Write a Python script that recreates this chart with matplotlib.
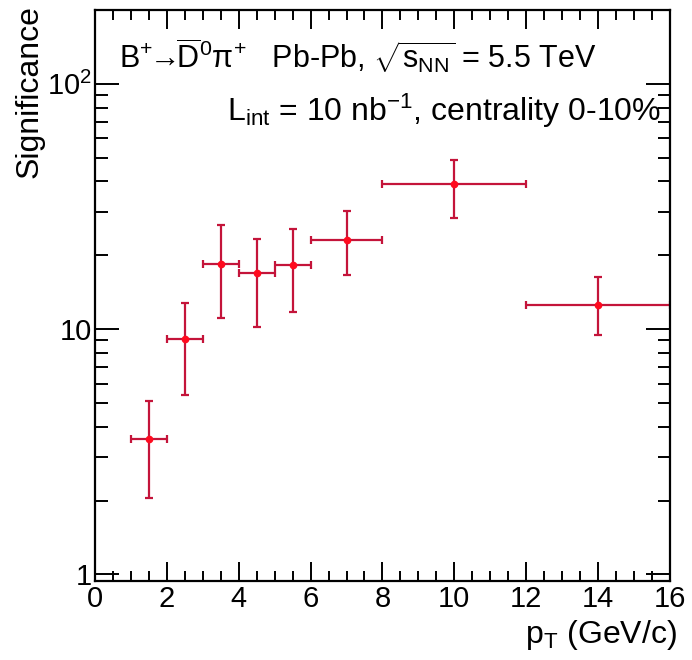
import matplotlib
matplotlib.use('Agg')
import matplotlib.pyplot as plt
from matplotlib.ticker import FixedLocator, FixedFormatter, MultipleLocator, NullFormatter

# значения
pt = [1.5, 2.5, 3.5, 4.5, 5.5, 7.0, 10.0, 14.0]
pt_lo = [1, 2, 3, 4, 5, 6, 8, 12]
pt_hi = [2, 3, 4, 5, 6, 8, 12, 16]
sig = [3.55, 9.1, 18.5, 16.9, 18.2, 23.0, 38.9, 12.6]
sig_hi = [5.1, 12.8, 26.5, 23.2, 25.7, 30.2, 49.1, 16.3]
sig_lo = [2.04, 5.4, 11.1, 10.2, 11.7, 16.7, 28.5, 9.5]

y_ticks = [1, 10, 100]
y_tick_labels = ['1', '10', '$10^{2}$']

plt.rcParams['font.family'] = ['Liberation Sans', 'DejaVu Sans']
plt.rcParams['mathtext.fontset'] = 'custom'
plt.rcParams['mathtext.rm'] = 'Liberation Sans'
plt.rcParams['mathtext.it'] = 'Liberation Sans:italic'
plt.rcParams['mathtext.sf'] = 'Liberation Sans'

fig = plt.figure(figsize=(6.92, 6.60), dpi=100)
ax = fig.add_axes([0.1373, 0.1197, 0.8307, 0.8651])

xerr = [[p - lo for p, lo in zip(pt, pt_lo)], [hi - p for p, hi in zip(pt, pt_hi)]]
yerr = [[s - lo for s, lo in zip(sig, sig_lo)], [hi - s for s, hi in zip(sig, sig_hi)]]
ax.errorbar(pt, sig, xerr=xerr, yerr=yerr, fmt='o', ms=4.5, mfc='#ff0a1e', mec='#ff0a1e',
            ecolor='#c4143a', elinewidth=1.6, capsize=3, capthick=1.6)

ax.set_yscale('log')
ax.set_xlim(0, 16)
ax.set_ylim(0.94, 200)

ax.xaxis.set_major_locator(MultipleLocator(2))
ax.xaxis.set_minor_locator(MultipleLocator(0.5))
ax.yaxis.set_major_locator(FixedLocator(y_ticks))
ax.yaxis.set_major_formatter(FixedFormatter(y_tick_labels))
ax.yaxis.set_minor_formatter(NullFormatter())

ax.tick_params(which='both', direction='in', top=True, right=True, width=1.4, labelsize=21)
ax.tick_params(which='major', length=14)
ax.tick_params(which='minor', length=7)
ax.tick_params(axis='y', which='major', length=17, pad=2)
ax.tick_params(axis='y', which='minor', length=9)
ax.tick_params(axis='x', which='major', pad=3)
for s in ax.spines.values():
    s.set_linewidth(1.6)

ax.set_xlabel(r'p$_{\mathrm{T}}$ (GeV/c)', fontsize=23)
ax.xaxis.set_label_coords(1.012, -0.065)
ax.xaxis.label.set_ha('right')
ax.set_ylabel('Significance', fontsize=23, loc='top')
ax.yaxis.set_label_coords(-0.088, 1.008)

# подписи на графике
ax.text(0.042, 0.898,
        'B$^{+}\\!\\!\\rightarrow\\!\\!\\overline{\\mathrm{D}}^{0}$π$^{+}$   Pb-Pb, '
        '$\\sqrt{\\mathrm{s}_{\\mathrm{NN}}}$ = 5.5 TeV',
        transform=ax.transAxes, fontsize=22, ha='left', va='baseline')
ax.text(0.985, 0.805, r'L$_{\mathrm{int}}$ = 10 nb$^{-1}$, centrality 0-10%',
        transform=ax.transAxes, fontsize=23, ha='right', va='baseline')

fig.savefig('out.png', dpi=100)
